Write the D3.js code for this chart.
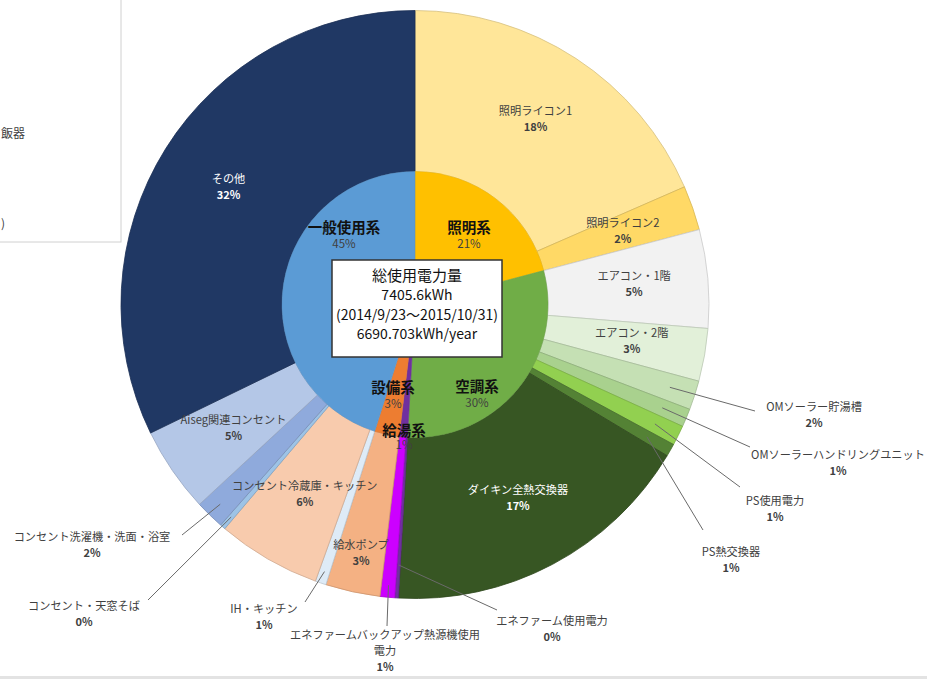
<!DOCTYPE html>
<html><head><meta charset="utf-8">
<script src="https://cdn.jsdelivr.net/npm/d3@7"></script>
<style>
body{margin:0;background:#fff;}
svg{display:block;}
text{font-family:"Noto Sans CJK JP","Noto Sans",sans-serif;}
</style>
</head><body>
<svg id="chart" width="927" height="679"></svg>
<script>
// ---------------- data ----------------
const innerCategories = ["照明系","空調系","給湯系","設備系","一般使用系"];
const outerCategories = ["照明ライコン1","照明ライコン2","エアコン・1階","エアコン・2階","OMソーラー貯湯槽","OMソーラーハンドリングユニット","PS使用電力","PS熱交換器","ダイキン全熱交換器","エネファーム使用電力","エネファームバックアップ熱源機使用電力","給水ポンプ","IH・キッチン","コンセント冷蔵庫・キッチン","コンセント・天窓そば","コンセント洗濯機・洗面・浴室","Aiseg関連コンセント","その他"];
const outerParents = ["照明系","照明系","空調系","空調系","空調系","空調系","空調系","空調系","空調系","給湯系","給湯系","設備系","一般使用系","一般使用系","一般使用系","一般使用系","一般使用系","一般使用系"];
const outerValues = [18.45,2.45,5.4,2.9,1.6,1.0,1.1,0.7,17.3,0.2,0.8,3.0,0.6,5.7,0.3,1.6,4.7,32.2];
const centerLines = ["総使用電力量","7405.6kWh","(2014/9/23〜2015/10/31)","6690.703kWh/year"];
const legendFragments = ["飯器",")"];

// ---------------- styles ----------------
const innerColors = {"照明系":"#FFC000","空調系":"#70AD47","給湯系":"#7030A0","設備系":"#ED7D31","一般使用系":"#5B9BD5"};
const outerColors = ["#FFE699","#FFD966","#F2F2F2","#E2F0D9","#C5E0B4","#A9D18E","#92D050","#548235","#375623","#7030A0","#CC00FF","#F4B183","#DEEBF7","#F8CBAD","#9DC3E6","#8FAADC","#B4C7E7","#203864"];
const whiteLabels = new Set(["その他","ダイキン全熱交換器"]);

// layout of labels (positions only)
const cx = 415, cy = 304.5, rIn = 133, rOut = 294;
const innerLabelPos = {"照明系":[469,229,16],"空調系":[477,388,16],"給湯系":[404,432,14],"設備系":[393,389,16],"一般使用系":[344,229,16]};
const outerLabelLayout = {
  "給水ポンプ":{r:255},
  "OMソーラー貯湯槽":{r0:268,end:[755,411],text:[814,408]},
  "OMソーラーハンドリングユニット":{r0:268,end:[750,447],text:[838,456]},
  "PS使用電力":{r0:268,end:[740,487],text:[775,502]},
  "PS熱交換器":{r0:267,end:[703,530],text:[731,553]},
  "エネファーム使用電力":{r0:261,end:[497,610],text:[552,622]},
  "エネファームバックアップ熱源機使用電力":{r0:282,end:[387,626],text:[385,636],wrapAt:17},
  "IH・キッチン":{r0:282,end:[305,602],text:[264,610]},
  "コンセント・天窓そば":{r0:281,end:[148,600],text:[84,607]},
  "コンセント洗濯機・洗面・浴室":{r0:279,end:[182,535],text:[92,538]}
};

// ---------------- build ----------------
const svg = d3.select("#chart");
const total = d3.sum(outerValues);
const pct = v => Math.round(v / total * 100) + "%";

const innerValues = innerCategories.map(c => d3.sum(outerValues.filter((v,i) => outerParents[i] === c)));
const innerData = innerCategories.map((c,i) => ({name:c, value:innerValues[i]}));
const outerData = outerCategories.map((c,i) => ({name:c, value:outerValues[i], color:outerColors[i]}));

const pie = d3.pie().sort(null).value(d => d.value).startAngle(0).endAngle(2*Math.PI);
const innerArcs = pie(innerData);
const outerArcs = pie(outerData);

const arcOuter = d3.arc().innerRadius(rIn).outerRadius(rOut);
const arcInner = d3.arc().innerRadius(0).outerRadius(rIn);

// legend box fragment (cropped)
svg.append("rect").attr("x",-2).attr("y",-2).attr("width",123).attr("height",244)
  .attr("fill","#fff").attr("stroke","#d0d0d0").attr("stroke-width",1);
svg.append("text").attr("x",1).attr("y",135).attr("dominant-baseline","middle")
  .attr("font-size",12).attr("fill","#404040").text(legendFragments[0]);
svg.append("text").attr("x",1).attr("y",225).attr("dominant-baseline","middle")
  .attr("font-size",12).attr("fill","#404040").text(legendFragments[1]);

const g = svg.append("g").attr("transform",`translate(${cx},${cy})`);

g.selectAll("path.outer").data(outerArcs).join("path").attr("class","outer")
  .attr("d", arcOuter)
  .attr("fill", d => d.data.color)
  .attr("stroke", d => d3.color(d.data.color).darker(0.5))
  .attr("stroke-width", 0.8);

g.selectAll("path.inner").data(innerArcs).join("path").attr("class","inner")
  .attr("d", arcInner)
  .attr("fill", d => innerColors[d.data.name])
  .attr("stroke", d => d3.color(innerColors[d.data.name]).darker(0.2))
  .attr("stroke-width", 0.5);

const polar = (r, a) => [r*Math.sin(a), -r*Math.cos(a)];

// outer labels
outerArcs.forEach(d => {
  const name = d.data.name;
  const lay = outerLabelLayout[name] || {};
  const mid = (d.startAngle + d.endAngle)/2;
  const fill = whiteLabels.has(name) ? "#ffffff" : "#404040";
  if (lay.end) {
    const [sx, sy] = polar(lay.r0, mid);
    svg.append("line").attr("x1",cx+sx).attr("y1",cy+sy).attr("x2",lay.end[0]).attr("y2",lay.end[1])
      .attr("stroke","#6a6a6a").attr("stroke-width",1);
    const lines = lay.wrapAt ? [name.slice(0,lay.wrapAt), name.slice(lay.wrapAt)] : [name];
    lines.forEach((t,k) => {
      svg.append("text").attr("x",lay.text[0]).attr("y",lay.text[1]+k*16)
        .attr("text-anchor","middle").attr("dominant-baseline","middle")
        .attr("font-size",11.2).attr("fill",fill).text(t);
    });
    svg.append("text").attr("x",lay.text[0]).attr("y",lay.text[1]+lines.length*16)
      .attr("text-anchor","middle").attr("dominant-baseline","middle")
      .attr("font-size",11).attr("font-weight","bold").attr("fill",fill).text(pct(d.data.value));
  } else {
    const r = lay.r || 220;
    const [x, y] = polar(r, mid);
    g.append("text").attr("x",x).attr("y",y-8).attr("text-anchor","middle").attr("dominant-baseline","middle")
      .attr("font-size",11.2).attr("fill",fill).text(name);
    g.append("text").attr("x",x).attr("y",y+8).attr("text-anchor","middle").attr("dominant-baseline","middle")
      .attr("font-size",11).attr("font-weight","bold").attr("fill",fill).text(pct(d.data.value));
  }
});

// inner labels
innerArcs.forEach(d => {
  const p = innerLabelPos[d.data.name];
  svg.append("text").attr("x",p[0]).attr("y",p[1]).attr("text-anchor","middle").attr("dominant-baseline","middle")
    .attr("font-size",14.5).attr("font-weight","bold").attr("fill","#111").text(d.data.name);
  svg.append("text").attr("x",p[0]).attr("y",p[1]+p[2]).attr("text-anchor","middle").attr("dominant-baseline","middle")
    .attr("font-size",11.5).attr("fill","#404040").text(pct(d.data.value));
});

// center box
svg.append("rect").attr("x",332).attr("y",260).attr("width",170).attr("height",97)
  .attr("fill","#fff").attr("stroke","#333").attr("stroke-width",1.5);
centerLines.forEach((t,k) => {
  svg.append("text").attr("x",417).attr("y",277 + k*19.5).attr("text-anchor","middle").attr("dominant-baseline","middle")
    .attr("font-size", k===0 ? 15 : 14).attr("fill","#111").text(t);
});

// bottom frame line
svg.append("rect").attr("x",0).attr("y",676).attr("width",927).attr("height",3).attr("fill","#e3e3e3");
</script>
</body></html>
